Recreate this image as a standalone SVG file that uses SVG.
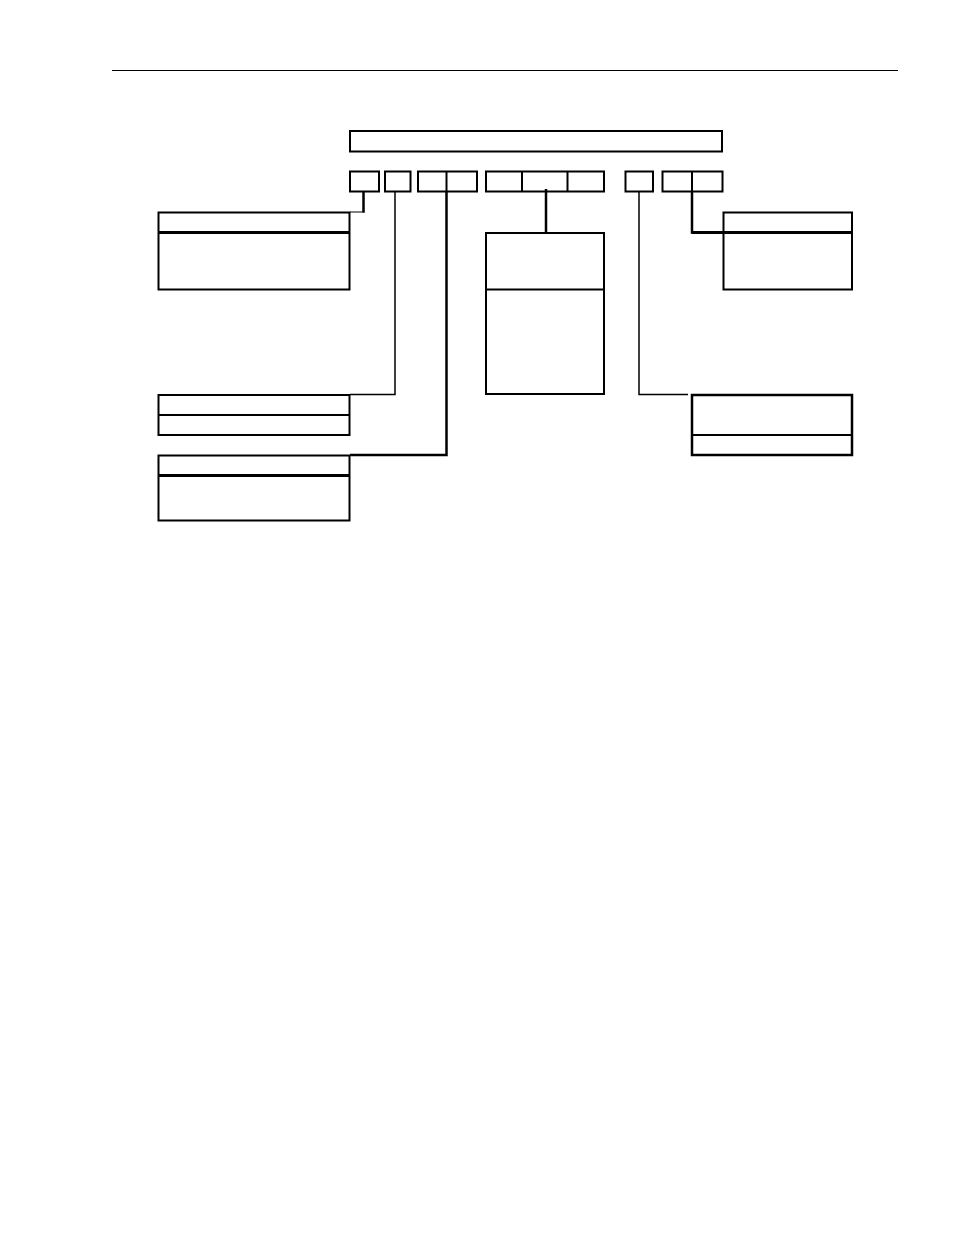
<svg xmlns="http://www.w3.org/2000/svg" width="954" height="1235" viewBox="0 0 954 1235">
<style>
.b{fill:none;stroke:#000;stroke-width:2}
.d{stroke:#000;stroke-width:3}
.t{stroke:#000;stroke-width:1.5;fill:none}
.k{stroke:#000;stroke-width:2.5;fill:none}
</style>
<rect width="954" height="1235" fill="#fff"/>
<line x1="112" y1="70.5" x2="898" y2="70.5" stroke="#000" stroke-width="1"/>
<g id="connectors">
<line class="k" x1="363.5" y1="191" x2="363.5" y2="212.5"/>
<line x1="350" y1="212" x2="364.5" y2="212" stroke="#000" stroke-width="1"/>
<polyline class="t" points="395,191 395,394.5 350,394.5"/>
<polyline class="k" points="446.5,191 446.5,455 350,455"/>
<line class="k" x1="546" y1="189" x2="546" y2="232"/>
<polyline class="t" points="639,191 639,394.5 688,394.5"/>
<polyline class="k" points="692,191 692,232.5 723,232.5"/>
</g>
<g id="top-bar"><rect class="b" x="350" y="131" width="372" height="20.5"/></g>
<g id="field-row">
<rect class="b" x="350" y="171.5" width="29" height="20"/>
<rect class="b" x="385" y="171.5" width="25.5" height="20"/>
<rect class="b" x="418" y="171.5" width="59" height="20"/>
<line class="b" x1="446.5" y1="171.5" x2="446.5" y2="191.5"/>
<rect class="b" x="486" y="171.5" width="118" height="20"/>
<line class="b" x1="522" y1="171.5" x2="522" y2="191.5"/>
<line class="b" x1="567.5" y1="171.5" x2="567.5" y2="191.5"/>
<rect class="b" x="625.5" y="171.5" width="27.5" height="20"/>
<rect class="b" x="662.5" y="171.5" width="60" height="20"/>
<line class="b" x1="692" y1="171.5" x2="692" y2="191.5"/>
</g>
<g id="left-box-1">
<rect class="b" x="158.5" y="212.5" width="191" height="77"/>
<line class="d" x1="158.5" y1="232.5" x2="349.5" y2="232.5"/>
</g>
<g id="left-box-2">
<rect class="b" x="158.5" y="395" width="191" height="40"/>
<line class="b" x1="158.5" y1="415" x2="349.5" y2="415"/>
</g>
<g id="left-box-3">
<rect class="b" x="158.5" y="455.5" width="191" height="65"/>
<line class="d" x1="158.5" y1="475.5" x2="349.5" y2="475.5"/>
</g>
<g id="middle-box">
<rect class="b" x="486" y="233" width="118" height="161"/>
<line class="b" x1="486" y1="289.5" x2="604" y2="289.5"/>
</g>
<g id="right-box-1">
<rect class="b" x="723.5" y="212.5" width="128.5" height="77"/>
<line class="d" x1="692" y1="232.5" x2="852" y2="232.5"/>
</g>
<g id="right-box-2">
<rect class="k" x="692" y="395" width="160" height="60"/>
<line class="b" x1="692" y1="435" x2="852" y2="435"/>
</g>
</svg>
